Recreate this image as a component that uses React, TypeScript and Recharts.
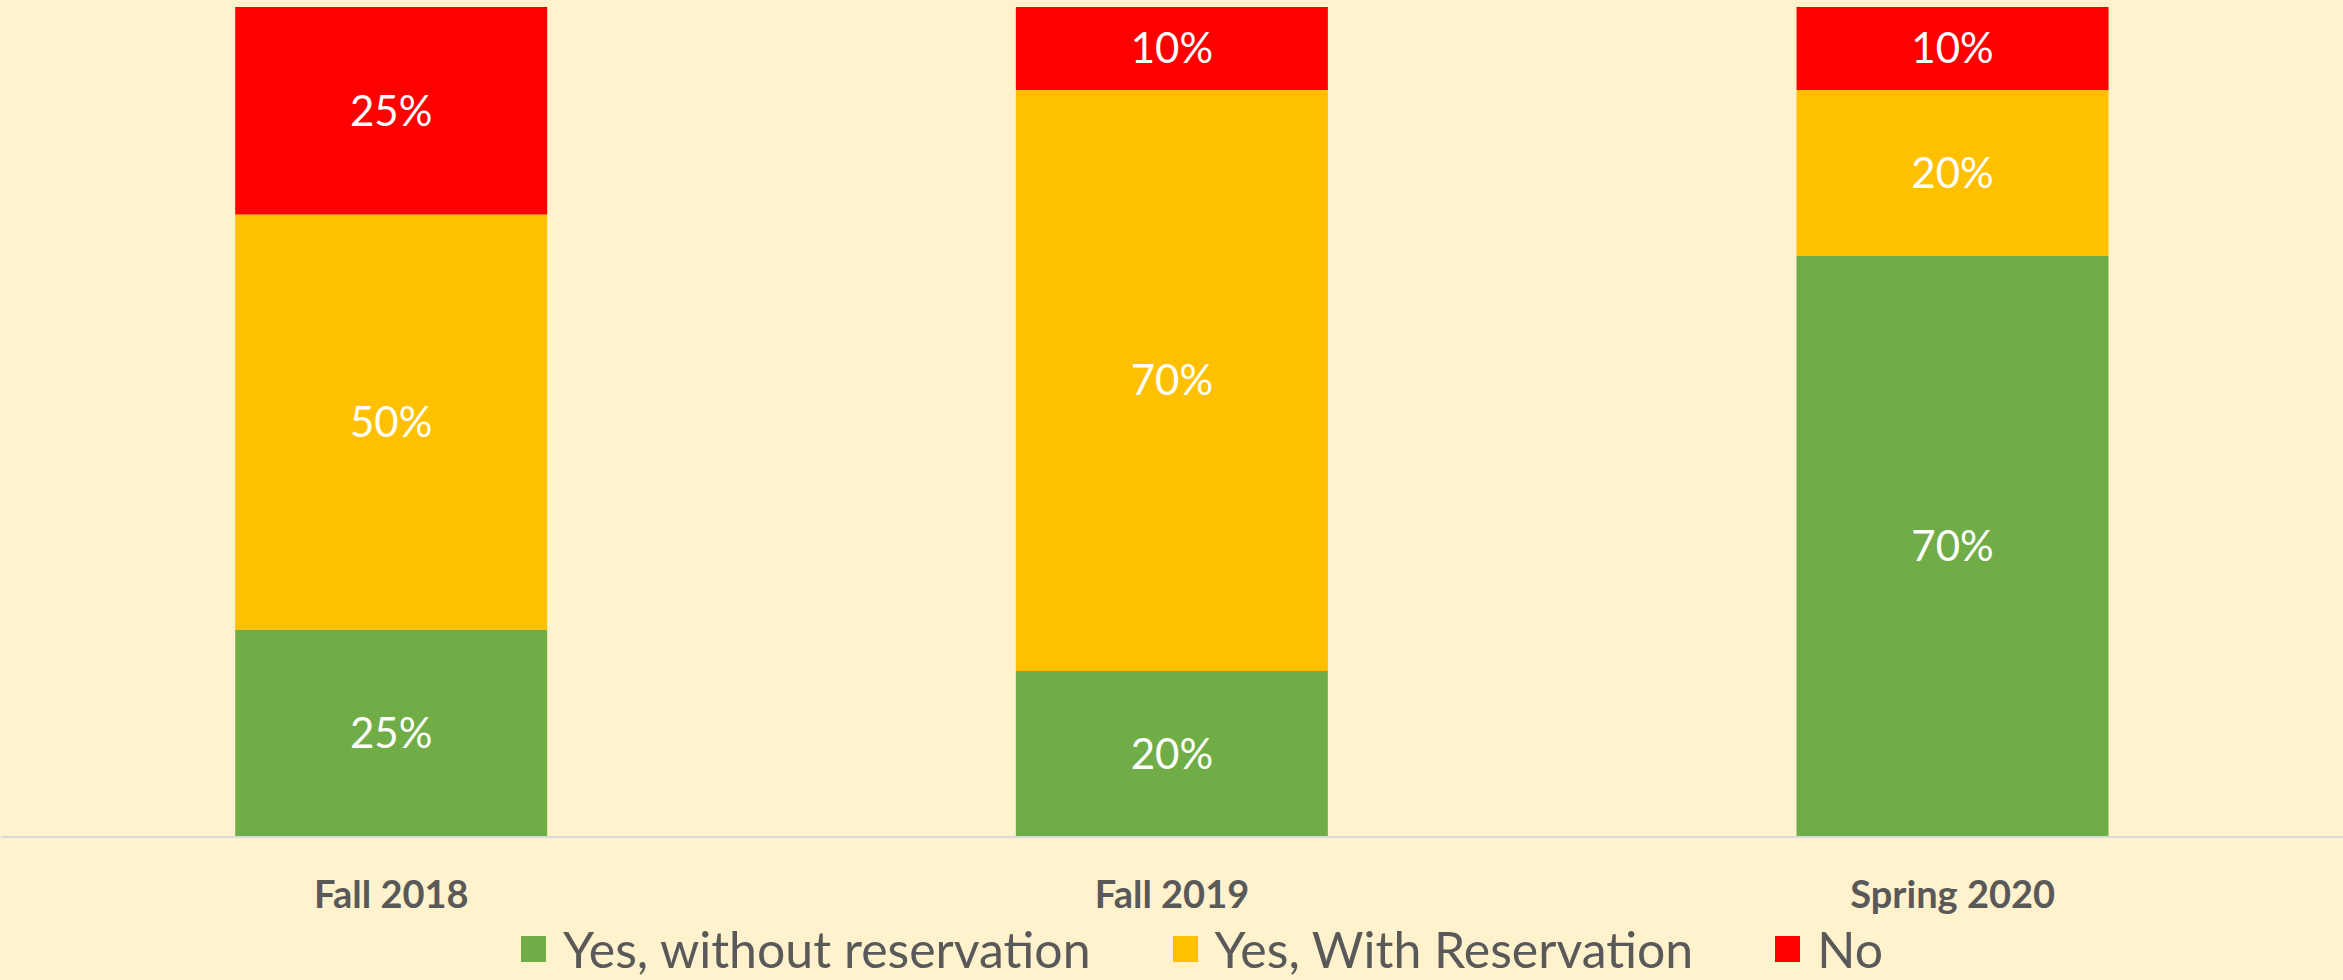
import React from 'react';
import { BarChart, Bar, XAxis, YAxis, Legend, LabelList } from 'recharts';

const terms = ['Fall 2018', 'Fall 2019', 'Spring 2020'];
const withoutReservation = [25, 20, 70];
const withReservation = [50, 70, 20];
const noSupport = [25, 10, 10];

const FONT = 'Lato, "Liberation Sans", sans-serif';
const TEXT = '#595959';

const SERIES = [
  { key: 'without', name: 'Yes, without reservation', color: '#70AD47' },
  { key: 'with', name: 'Yes, With Reservation', color: '#FFC000' },
  { key: 'no', name: 'No', color: '#FF0000' },
];

const data = terms.map((term, i) => ({
  term,
  without: withoutReservation[i],
  with: withReservation[i],
  no: noSupport[i],
}));

function TermTick({ x, y, payload }: any) {
  return (
    <text x={x} y={y} dy={48} textAnchor="middle" dominantBaseline="central"
      fill={TEXT} fontSize={38} fontWeight={700} fontFamily={FONT}>
      {payload.value}
    </text>
  );
}

// keep legend in series order (recharts 3 sorts by name otherwise)
function LegendRow({ payload }: any) {
  const order = SERIES.map(s => s.name);
  const items = [...(payload || [])].sort((a: any, b: any) => order.indexOf(a.value) - order.indexOf(b.value));
  return (
    <div style={{ display: 'flex', alignItems: 'center', height: 63, paddingLeft: 520, fontFamily: FONT }}>
      {items.map((p: any) => (
        <div key={p.value} style={{ display: 'flex', alignItems: 'center', marginRight: 82 }}>
          <span style={{ width: 25, height: 26, background: p.color, marginRight: 17, display: 'inline-block' }} />
          <span style={{ fontSize: 50, color: TEXT, lineHeight: 1 }}>{p.value}</span>
        </div>
      ))}
    </div>
  );
}

export default function App() {
  return (
    <div style={{ position: 'fixed', left: 0, top: 0, width: 2343, height: 980, background: '#FFF2CC' }}>
      <BarChart width={2343} height={980} data={data} barCategoryGap="30%"
        margin={{ top: 7, right: 0, left: 1, bottom: 0 }}>
        <XAxis dataKey="term" height={80} tickLine={false} tick={<TermTick />}
          axisLine={{ stroke: '#D9D9D9', strokeWidth: 2 }} />
        <YAxis hide domain={[0, 100]} />
        <Legend verticalAlign="bottom" content={<LegendRow />} wrapperStyle={{ height: 63 }} />
        {SERIES.map(s => (
          <Bar key={s.key} dataKey={s.key} name={s.name} stackId="a" fill={s.color} isAnimationActive={false}>
            <LabelList dataKey={s.key} position="center" formatter={(v: any) => `${v}%`}
              fill="#FFFFFF" fontSize={42} fontFamily={FONT} />
          </Bar>
        ))}
      </BarChart>
    </div>
  );
}
